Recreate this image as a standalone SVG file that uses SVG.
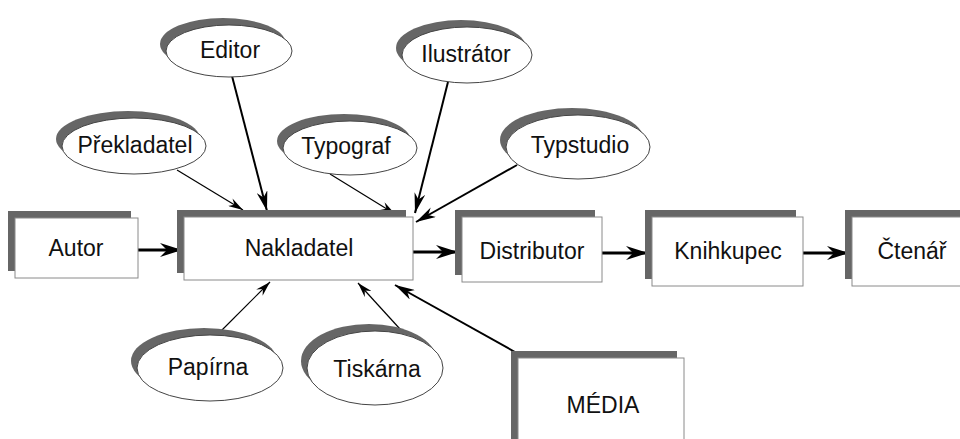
<svg xmlns="http://www.w3.org/2000/svg" width="960" height="439" viewBox="0 0 960 439">
  <defs>
    <style>
      text { font-family: "Liberation Sans", Arial, sans-serif; font-size: 23px; fill: #111; text-anchor: middle; }
      .shadow { fill: #666; }
      .box { fill: #fff; stroke: #8a8a8a; stroke-width: 1; }
      .oval { fill: #fff; stroke: #444; stroke-width: 1; }
      .thick { stroke: #000; stroke-width: 3; fill: none; marker-end: url(#headBig); }
      .mid { stroke: #000; stroke-width: 2; fill: none; marker-end: url(#headMid); }
      .thin { stroke: #000; stroke-width: 1.2; fill: none; marker-end: url(#headSmall); }
    </style>
    <filter id="soft" x="-10%" y="-10%" width="120%" height="120%">
      <feGaussianBlur stdDeviation="0.7"/>
    </filter>
    <marker id="headBig" viewBox="0 0 22 14" refX="22" refY="7" markerWidth="22" markerHeight="14" markerUnits="userSpaceOnUse" orient="auto">
      <path d="M0,0 L22,7 L0,14 L7,7 Z" fill="#000"/>
    </marker>
    <marker id="headMid" viewBox="0 0 20 11" refX="20" refY="5.5" markerWidth="20" markerHeight="11" markerUnits="userSpaceOnUse" orient="auto">
      <path d="M0,0 L20,5.5 L0,11 L6,5.5 Z" fill="#000"/>
    </marker>
    <marker id="headSmall" viewBox="0 0 15 9" refX="15" refY="4.5" markerWidth="15" markerHeight="9" markerUnits="userSpaceOnUse" orient="auto">
      <path d="M0,0 L15,4.5 L0,9 L5,4.5 Z" fill="#000"/>
    </marker>
  </defs>

  <rect width="960" height="439" fill="#fff"/>

  <!-- connectors -->
  <g id="connectors">
    <line class="thick" x1="138" y1="250" x2="182" y2="250"/>
    <line class="thick" x1="413" y1="252" x2="458" y2="252"/>
    <line class="thick" x1="602" y1="253" x2="648" y2="253"/>
    <line class="thick" x1="803" y1="253" x2="849" y2="253"/>
    <line class="mid" x1="232" y1="76" x2="267" y2="211"/>
    <line class="mid" x1="448" y1="82" x2="415" y2="213"/>
    <line class="mid" x1="517" y1="165" x2="416" y2="222"/>
    <line class="mid" x1="515" y1="352" x2="395" y2="285"/>
    <line class="thin" x1="177" y1="170" x2="243" y2="210"/>
    <line class="thin" x1="330" y1="174" x2="395" y2="214"/>
    <line class="thin" x1="217" y1="335" x2="270" y2="282"/>
    <line class="thin" x1="410" y1="340" x2="358" y2="283"/>
  </g>

  <!-- rectangular nodes -->
  <g id="autor">
    <rect class="shadow" x="8" y="211" width="123" height="60"/>
    <rect class="box" x="15" y="218" width="123" height="60"/>
    <text x="76" y="256">Autor</text>
  </g>
  <g id="nakladatel">
    <rect class="shadow" x="177" y="210" width="229" height="63"/>
    <rect class="box" x="184" y="217" width="229" height="63"/>
    <text x="299" y="256">Nakladatel</text>
  </g>
  <g id="distributor">
    <rect class="shadow" x="455" y="210" width="140" height="65"/>
    <rect class="box" x="462" y="217" width="140" height="65"/>
    <text x="532" y="259">Distributor</text>
  </g>
  <g id="knihkupec">
    <rect class="shadow" x="645" y="210" width="151" height="69"/>
    <rect class="box" x="652" y="217" width="151" height="69"/>
    <text x="728" y="259">Knihkupec</text>
  </g>
  <g id="ctenar">
    <rect class="shadow" x="845" y="210" width="130" height="69"/>
    <rect class="box" x="852" y="217" width="130" height="69"/>
    <text x="912" y="259">Čtenář</text>
  </g>
  <g id="media">
    <rect class="shadow" x="511" y="351" width="166" height="100"/>
    <rect class="box" x="518" y="358" width="166" height="100"/>
    <text x="603" y="413">MÉDIA</text>
  </g>

  <!-- oval nodes -->
  <g id="editor">
    <ellipse class="shadow" cx="223" cy="44" rx="63" ry="26" filter="url(#soft)"/>
    <ellipse class="oval" cx="229" cy="51" rx="63" ry="26"/>
    <text x="230" y="58">Editor</text>
  </g>
  <g id="ilustrator">
    <ellipse class="shadow" cx="461" cy="48" rx="65" ry="28" filter="url(#soft)"/>
    <ellipse class="oval" cx="467" cy="55" rx="65" ry="28"/>
    <text x="466" y="62">Ilustrátor</text>
  </g>
  <g id="prekladatel">
    <ellipse class="shadow" cx="128" cy="139" rx="72" ry="28" filter="url(#soft)"/>
    <ellipse class="oval" cx="134" cy="146" rx="72" ry="28"/>
    <text x="135" y="153">Překladatel</text>
  </g>
  <g id="typograf">
    <ellipse class="shadow" cx="344" cy="141" rx="67" ry="27" filter="url(#soft)"/>
    <ellipse class="oval" cx="350" cy="148" rx="67" ry="27"/>
    <text x="346" y="154">Typograf</text>
  </g>
  <g id="typstudio">
    <ellipse class="shadow" cx="572" cy="140" rx="72" ry="32" filter="url(#soft)"/>
    <ellipse class="oval" cx="578" cy="147" rx="72" ry="32"/>
    <text x="580" y="153">Typstudio</text>
  </g>
  <g id="papirna">
    <ellipse class="shadow" cx="204" cy="361" rx="73" ry="33" filter="url(#soft)"/>
    <ellipse class="oval" cx="210" cy="368" rx="73" ry="33"/>
    <text x="208" y="375">Papírna</text>
  </g>
  <g id="tiskarna">
    <ellipse class="shadow" cx="369" cy="361" rx="68" ry="37" filter="url(#soft)"/>
    <ellipse class="oval" cx="375" cy="368" rx="68" ry="37"/>
    <text x="377" y="377">Tiskárna</text>
  </g>
</svg>
